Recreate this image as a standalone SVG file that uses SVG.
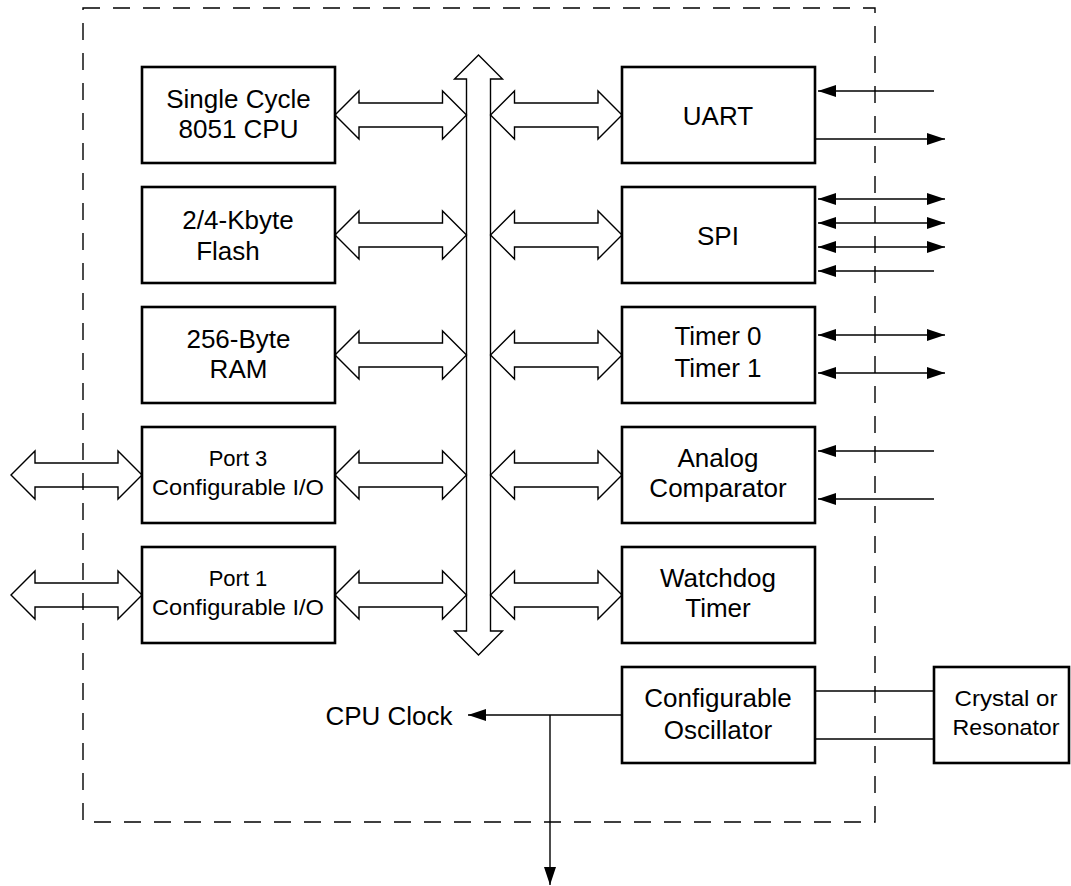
<svg xmlns="http://www.w3.org/2000/svg" width="1071" height="886" viewBox="0 0 1071 886">
<defs>
<style>
.box{fill:#fff;stroke:#000;stroke-width:2.6}
.bus{fill:none;stroke:#000;stroke-width:1.4;stroke-linejoin:miter}
.ln{fill:none;stroke:#000;stroke-width:1.4}
.dash{fill:none;stroke:#000;stroke-width:1.4;stroke-dasharray:17 13}
.t{font-family:"Liberation Sans",Arial,Helvetica,sans-serif;font-size:26px;fill:#000;text-anchor:middle}
.s{font-family:"Liberation Sans",Arial,Helvetica,sans-serif;font-size:22px;fill:#000;text-anchor:middle}
</style>
<marker id="ah" viewBox="0 0 18 12" refX="18" refY="6" markerWidth="18" markerHeight="12" markerUnits="userSpaceOnUse" orient="auto-start-reverse">
<path d="M0,0 L18,6 L0,12 Z" fill="#000"/>
</marker>
</defs>

<rect class="dash" x="83" y="8" width="792" height="814"/>

<g id="connectors">
<polygon class="bus" points="478.5,55 502.5,79 490.5,79 490.5,631 502.5,631 478.5,655 454.5,631 466.5,631 466.5,79 454.5,79"/>
<polygon class="bus" points="335,115 359,91 359,103 442.5,103 442.5,91 466.5,115 442.5,139 442.5,127 359,127 359,139"/>
<polygon class="bus" points="335,235 359,211 359,223 442.5,223 442.5,211 466.5,235 442.5,259 442.5,247 359,247 359,259"/>
<polygon class="bus" points="335,355 359,331 359,343 442.5,343 442.5,331 466.5,355 442.5,379 442.5,367 359,367 359,379"/>
<polygon class="bus" points="335,475 359,451 359,463 442.5,463 442.5,451 466.5,475 442.5,499 442.5,487 359,487 359,499"/>
<polygon class="bus" points="335,595 359,571 359,583 442.5,583 442.5,571 466.5,595 442.5,619 442.5,607 359,607 359,619"/>
<polygon class="bus" points="490.5,115 514.5,91 514.5,103 598,103 598,91 622,115 598,139 598,127 514.5,127 514.5,139"/>
<polygon class="bus" points="490.5,235 514.5,211 514.5,223 598,223 598,211 622,235 598,259 598,247 514.5,247 514.5,259"/>
<polygon class="bus" points="490.5,355 514.5,331 514.5,343 598,343 598,331 622,355 598,379 598,367 514.5,367 514.5,379"/>
<polygon class="bus" points="490.5,475 514.5,451 514.5,463 598,463 598,451 622,475 598,499 598,487 514.5,487 514.5,499"/>
<polygon class="bus" points="490.5,595 514.5,571 514.5,583 598,583 598,571 622,595 598,619 598,607 514.5,607 514.5,619"/>
<polygon class="bus" points="11,475 35,451 35,463 118,463 118,451 142,475 118,499 118,487 35,487 35,499"/>
<polygon class="bus" points="11,595 35,571 35,583 118,583 118,571 142,595 118,619 118,607 35,607 35,619"/>
<line class="ln" x1="934" y1="91" x2="818" y2="91" marker-end="url(#ah)"/>
<line class="ln" x1="815" y1="139" x2="945" y2="139" marker-end="url(#ah)"/>
<line class="ln" x1="818" y1="199" x2="945" y2="199" marker-start="url(#ah)" marker-end="url(#ah)"/>
<line class="ln" x1="818" y1="223" x2="945" y2="223" marker-start="url(#ah)" marker-end="url(#ah)"/>
<line class="ln" x1="818" y1="247" x2="945" y2="247" marker-start="url(#ah)" marker-end="url(#ah)"/>
<line class="ln" x1="934" y1="271" x2="818" y2="271" marker-end="url(#ah)"/>
<line class="ln" x1="818" y1="335" x2="945" y2="335" marker-start="url(#ah)" marker-end="url(#ah)"/>
<line class="ln" x1="818" y1="373" x2="945" y2="373" marker-start="url(#ah)" marker-end="url(#ah)"/>
<line class="ln" x1="934" y1="451" x2="818" y2="451" marker-end="url(#ah)"/>
<line class="ln" x1="934" y1="499" x2="818" y2="499" marker-end="url(#ah)"/>
<line class="ln" x1="815" y1="691" x2="934" y2="691"/>
<line class="ln" x1="815" y1="739" x2="934" y2="739"/>
<line class="ln" x1="622" y1="715" x2="468" y2="715" marker-end="url(#ah)"/>
<line class="ln" x1="550" y1="715" x2="550" y2="885" marker-end="url(#ah)"/>
</g>

<g id="cpu"><rect class="box" x="142" y="67" width="193" height="96"/>
<text class="t" x="238.5" y="108">Single Cycle</text><text class="t" x="238.5" y="138">8051 CPU</text></g>
<g id="flash"><rect class="box" x="142" y="187" width="193" height="96"/>
<text class="t" x="238" y="229">2/4-Kbyte</text><text class="t" x="228" y="260">Flash</text></g>
<g id="ram"><rect class="box" x="142" y="307" width="193" height="96"/>
<text class="t" x="238.5" y="348">256-Byte</text><text class="t" x="238.5" y="378">RAM</text></g>
<g id="port3"><rect class="box" x="142" y="427" width="193" height="96"/>
<text class="s" x="238" y="466">Port 3</text><text class="s" x="238" y="495" textLength="172" lengthAdjust="spacingAndGlyphs">Configurable I/O</text></g>
<g id="port1"><rect class="box" x="142" y="547" width="193" height="96"/>
<text class="s" x="238" y="586">Port 1</text><text class="s" x="238" y="615" textLength="172" lengthAdjust="spacingAndGlyphs">Configurable I/O</text></g>

<g id="uart"><rect class="box" x="622" y="67" width="193" height="96"/>
<text class="t" x="718" y="125">UART</text></g>
<g id="spi"><rect class="box" x="622" y="187" width="193" height="96"/>
<text class="t" x="718" y="245">SPI</text></g>
<g id="timers"><rect class="box" x="622" y="307" width="193" height="96"/>
<text class="t" x="718" y="345">Timer 0</text><text class="t" x="718" y="377">Timer 1</text></g>
<g id="analog"><rect class="box" x="622" y="427" width="193" height="96"/>
<text class="t" x="718" y="467">Analog</text><text class="t" x="718" y="497">Comparator</text></g>
<g id="watchdog"><rect class="box" x="622" y="547" width="193" height="96"/>
<text class="t" x="718" y="587">Watchdog</text><text class="t" x="718" y="617">Timer</text></g>
<g id="oscillator"><rect class="box" x="622" y="667" width="193" height="96"/>
<text class="t" x="718" y="707">Configurable</text><text class="t" x="718" y="739">Oscillator</text></g>
<g id="crystal"><rect class="box" x="934" y="667" width="135" height="96"/>
<text class="s" x="1006" y="706" textLength="103" lengthAdjust="spacingAndGlyphs">Crystal or</text><text class="s" x="1006" y="735" textLength="107" lengthAdjust="spacingAndGlyphs">Resonator</text></g>

<g id="cpuclock"><text class="t" x="389" y="725">CPU Clock</text></g>
</svg>
